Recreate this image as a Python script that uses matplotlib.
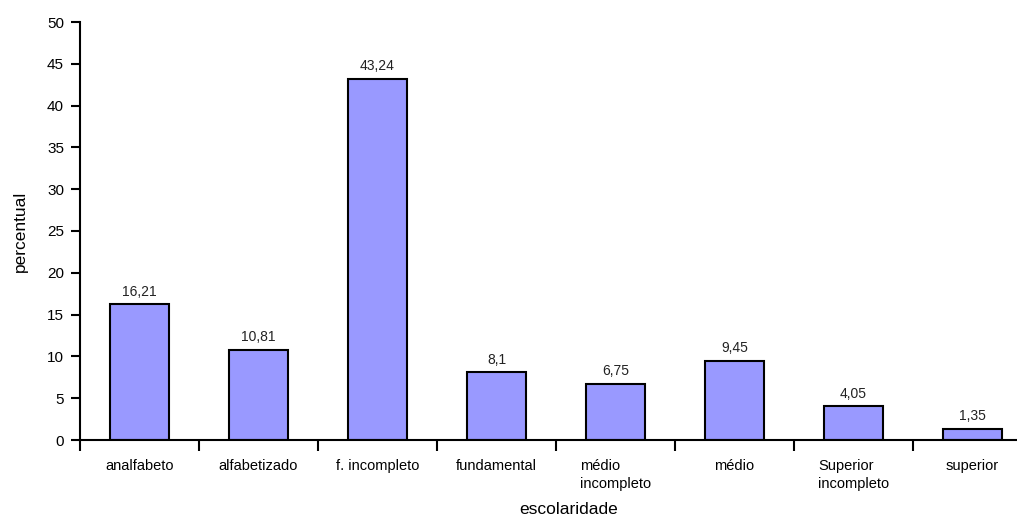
import matplotlib
matplotlib.use('Agg')
import matplotlib.pyplot as plt
import numpy as np

# Dados: escolaridade (percentual)
categorias = ['analfabeto', 'alfabetizado', 'f. incompleto', 'fundamental',
              'médio\nincompleto', 'médio', 'Superior\nincompleto', 'superior']
valores = [16.21, 10.81, 43.24, 8.1, 6.75, 9.45, 4.05, 1.35]
rotulos = ['16,21', '10,81', '43,24', '8,1', '6,75', '9,45', '4,05', '1,35']

plt.rcParams['font.family'] = ['Liberation Sans', 'DejaVu Sans']

fig = plt.figure(figsize=(10.17, 5.17), dpi=100)
# eixo estendido um pouco além da borda direita, como no original
ax = fig.add_axes([80 / 1017, 77 / 517, 952 / 1017, 418 / 517])

x = np.arange(len(categorias))
ax.bar(x, valores, width=0.5, color='#9999FF', edgecolor='black', linewidth=1.5)

for xi, v, r in zip(x, valores, rotulos):
    ax.annotate(r, (xi, v), xytext=(0, 4), textcoords='offset points',
                ha='center', va='bottom', fontsize=10, color='#222222')

ax.set_xlim(-0.5, len(categorias) - 0.5)
ax.set_ylim(0, 50)
ax.set_yticks(range(0, 51, 5))
ax.tick_params(axis='y', direction='out', length=6.5, width=1.5, labelsize=11, pad=5)

# ticks do eixo x entre categorias
ax.set_xticks(np.arange(-0.5, len(categorias), 1.0))
ax.set_xticklabels([])
ax.tick_params(axis='x', which='major', direction='out', length=8, width=1.5)
ax.set_xticks(x, minor=True)
ax.set_xticklabels(categorias, minor=True, fontsize=10.5, ha='center',
                   multialignment='left', va='top', linespacing=1.35)
ax.tick_params(axis='x', which='minor', length=0, pad=14)

for s in ['top', 'right']:
    ax.spines[s].set_visible(False)
for s in ['left', 'bottom']:
    ax.spines[s].set_linewidth(1.5)

ax.set_xlabel('escolaridade', fontsize=12.5)
ax.xaxis.set_label_coords((569 - 80) / 952, -(510 - 440) / 418)
ax.xaxis.label.set_va('center')
ax.set_ylabel('percentual', fontsize=12.5)
ax.yaxis.set_label_coords(-(80 - 20) / 952, 0.5)
ax.yaxis.label.set_va('center')

fig.savefig('out.png', dpi=100)
